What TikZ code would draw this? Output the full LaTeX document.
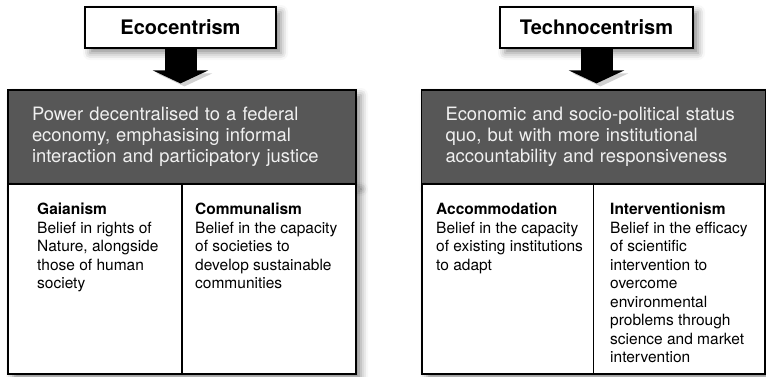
\documentclass[tikz,border=0pt]{standalone}
\usepackage{fontspec}
\setmainfont{TeX Gyre Heros}
\usetikzlibrary{arrows.meta,shadows.blur}
\begin{document}
\begin{tikzpicture}[x=1pt,y=-1pt,
  soft/.style={blur shadow={shadow xshift=5pt,shadow yshift=-5pt,shadow blur radius=7pt,shadow opacity=45}},
  head/.style={draw,fill=white,line width=1.2pt,minimum height=41pt,font=\fontsize{20}{24}\selectfont\bfseries,soft},
  view/.style={draw,fill=black!66,line width=1.2pt,text=black!6,minimum height=94pt,align=left,inner xsep=24pt,font=\fontsize{18.4}{21}\selectfont,soft},
  base/.style={draw,fill=white,line width=1.2pt,minimum height=190pt,soft},
  col/.style={anchor=north west,align=left,inner sep=0pt,font=\fontsize{15.5}{18.5}\selectfont},
  bigarrow/.style={line width=32pt,-{Triangle[length=13pt,width=55pt]},shorten >=6pt,
    preaction={draw=black!18,transform canvas={xshift=4pt,yshift=-3pt}}}]
\useasboundingbox (0,0) rectangle (766,376);
% left side
\node[view,text width=300pt] (ecoview) at (182,137) {Power decentralised to a federal\\economy, emphasising informal\\interaction and participatory justice};
\node[base,minimum width=348pt] (ecobase) at (182,279) {};
\draw[line width=1.2pt] (ecobase.north) -- (ecobase.south);
\node[col] (gaia) at (37,203) {\textbf{Gaianism}\\Belief in rights of\\Nature, alongside\\those of human\\society};
\node[col] (communal) at (195,203) {\textbf{Communalism}\\Belief in the capacity\\of societies to\\develop sustainable\\communities};
\node[head,minimum width=191pt] (eco) at (180.5,27.5) {Ecocentrism};
\draw[bigarrow] (eco.south) -- (eco.south |- ecoview.north);
% right side
\node[view,text width=296pt] (technoview) at (593.5,137) {Economic and socio-political status\\quo, but with more institutional\\accountability and responsiveness};
\node[base,minimum width=343pt] (technobase) at (593.5,279) {};
\draw[line width=1.2pt] (technobase.north) -- (technobase.south);
\node[col] (accom) at (436,203) {\textbf{Accommodation}\\Belief in the capacity\\of existing institutions\\to adapt};
\node[col] (interv) at (610,203) {\textbf{Interventionism}\\Belief in the efficacy\\of scientific\\intervention to\\overcome\\environmental\\problems through\\science and market\\intervention};
\node[head,minimum width=193pt] (techno) at (596.5,27.5) {Technocentrism};
\draw[bigarrow] (techno.south) -- (techno.south |- technoview.north);
\end{tikzpicture}
\end{document}
